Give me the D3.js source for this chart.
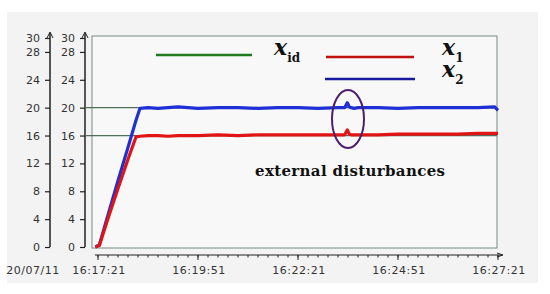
<!DOCTYPE html>
<html>
<head>
<meta charset="utf-8">
<script src="https://cdn.jsdelivr.net/npm/d3@7"></script>
<style>
  body { margin: 0; background: #fff; }
</style>
</head>
<body>
<div id="chart"></div>
<script>
// seconds after 16:17:21
const times = [-4, 2, 15, 30, 45, 57, 63, 75, 90, 105, 120, 150, 180, 210, 240, 270, 300, 330, 360, 370, 374, 377, 380, 384, 390, 420, 450, 480, 510, 540, 570, 595, 600];
const x1Values = [0, 0.2, 4.1, 8.4, 12.6, 15.8, 15.9, 16.0, 16.0, 15.9, 16.0, 16.0, 16.1, 16.0, 16.1, 16.1, 16.1, 16.1, 16.1, 16.1, 16.8, 16.2, 16.1, 16.1, 16.1, 16.1, 16.2, 16.2, 16.2, 16.2, 16.3, 16.3, 16.3];
const x2Values = [0, 0.3, 4.6, 9.5, 14.3, 18.2, 19.9, 20.0, 19.9, 20.0, 20.1, 19.9, 20.0, 20.0, 19.9, 20.0, 20.0, 19.9, 20.0, 20.0, 20.7, 20.1, 20.0, 19.9, 20.0, 20.0, 19.9, 20.0, 20.0, 20.0, 20.0, 20.1, 19.6];
const idealLevels = [16, 20];
const yTicks = [0, 4, 8, 12, 16, 20, 24, 28, 30];
const xTickLabels = ["16:17:21", "16:19:51", "16:22:21", "16:24:51", "16:27:21"];
const dateLabel = "20/07/11";

const width = 550, height = 294;
const sans = '"DejaVu Sans", Verdana, sans-serif';
const serif = '"DejaVu Serif", "Liberation Serif", serif';
const svg = d3.select("#chart").append("svg")
  .attr("width", width).attr("height", height);

svg.append("rect").attr("x", 7).attr("y", 12).attr("width", 531).attr("height", 271)
  .attr("fill", "#f3f3f3");

const x = d3.scaleLinear().domain([0, 600]).range([98, 498]);
const y = d3.scaleLinear().domain([0, 30]).range([247, 38]);

// plot box
svg.append("rect").attr("x", 92).attr("y", 36).attr("width", 405).attr("height", 212)
  .attr("fill", "#f8f8f8").attr("stroke", "#7a8a84").attr("stroke-width", 1);

// y axes
[50, 85].forEach(px => {
  const g = svg.append("g").attr("transform", `translate(${px},0)`)
    .call(d3.axisLeft(y).tickValues(yTicks).tickSize(5).tickSizeOuter(0));
  g.select(".domain").attr("stroke", "#222").attr("stroke-width", 1.5)
    .attr("d", `M0,${y(0)}V33`);
  g.selectAll("line").attr("stroke", "#222").attr("stroke-width", 1.2);
  g.selectAll("text").style("font-family", sans).attr("font-size", 11).attr("fill", "#333").attr("x", -10);
  g.append("path").attr("d", "M-3,38L0,32L3,38").attr("fill", "none").attr("stroke", "#222");
});

// x axis
const xMinor = d3.range(0, 601, 15);
const xg = svg.append("g").attr("transform", "translate(0,255)");
xg.append("line").attr("x1", 95).attr("x2", 502).attr("stroke", "#222").attr("stroke-width", 1.2);
xg.append("path").attr("d", "M497,-2L503,0L497,2").attr("fill", "none").attr("stroke", "#222");
xg.selectAll(".minor").data(xMinor).join("line").attr("class", "minor")
  .attr("x1", d => x(d)).attr("x2", d => x(d)).attr("y1", 0).attr("y2", 2.5)
  .attr("stroke", "#222");
xg.selectAll(".major").data(xTickLabels).join("line").attr("class", "major")
  .attr("x1", (d, i) => x(i * 150)).attr("x2", (d, i) => x(i * 150)).attr("y1", 0).attr("y2", 5)
  .attr("stroke", "#222");
xg.selectAll(".lbl").data(xTickLabels).join("text").attr("class", "lbl")
  .attr("x", (d, i) => x(i * 150) + 1).attr("y", 19).attr("text-anchor", "middle")
  .style("font-family", sans).attr("font-size", 11).attr("fill", "#333").attr("letter-spacing", 0.5).text(d => d);
xg.append("text").attr("x", 33).attr("y", 19).attr("text-anchor", "middle")
  .style("font-family", sans).attr("font-size", 11).attr("fill", "#333").attr("letter-spacing", 0.5).text(dateLabel);

// ideal levels
svg.selectAll(".ideal").data(idealLevels).join("line").attr("class", "ideal")
  .attr("x1", 85).attr("x2", 497).attr("y1", d => y(d)).attr("y2", d => y(d))
  .attr("stroke", "#4f6f5c").attr("stroke-width", 1.3);

const line = vals => d3.line().x((d, i) => x(times[i])).y(d => y(d))(vals);
svg.append("path").attr("d", line(x2Values)).attr("fill", "none")
  .attr("stroke", "#1f2fd6").attr("stroke-width", 3.2).attr("stroke-linejoin", "round");
svg.append("path").attr("d", line(x1Values)).attr("fill", "none")
  .attr("stroke", "#e01414").attr("stroke-width", 3.2).attr("stroke-linejoin", "round");

// legend
const leg = svg.append("g");
leg.append("line").attr("x1", 156).attr("x2", 252).attr("y1", 55).attr("y2", 55)
  .attr("stroke", "#1f7a1f").attr("stroke-width", 2.5);
leg.append("line").attr("x1", 326).attr("x2", 414).attr("y1", 57).attr("y2", 57)
  .attr("stroke", "#c01010").attr("stroke-width", 2.5);
leg.append("line").attr("x1", 325).attr("x2", 415).attr("y1", 79).attr("y2", 79)
  .attr("stroke", "#1a1aa0").attr("stroke-width", 2.5);
function legendLabel(px, py, sub) {
  const t = leg.append("text").attr("x", px).attr("y", py)
    .style("font-family", serif).attr("font-weight", "bold").attr("fill", "#111");
  t.append("tspan").attr("font-style", "italic").attr("font-size", 22).text("x");
  t.append("tspan").attr("font-size", 12).attr("dy", 7).attr("dx", 0).text(sub);
}
legendLabel(274, 55, "id");
legendLabel(442, 55, "1");
legendLabel(442, 77, "2");

// disturbance marker
svg.append("ellipse").attr("cx", x(375)).attr("cy", 119).attr("rx", 16).attr("ry", 29)
  .attr("fill", "none").attr("stroke", "#4b1f6e").attr("stroke-width", 2);
svg.append("text").attr("x", 255).attr("y", 176).style("font-family", serif)
  .attr("font-weight", "bold").attr("font-size", 15).attr("fill", "#111")
  .attr("textLength", 190).text("external disturbances");
</script>
</body>
</html>
